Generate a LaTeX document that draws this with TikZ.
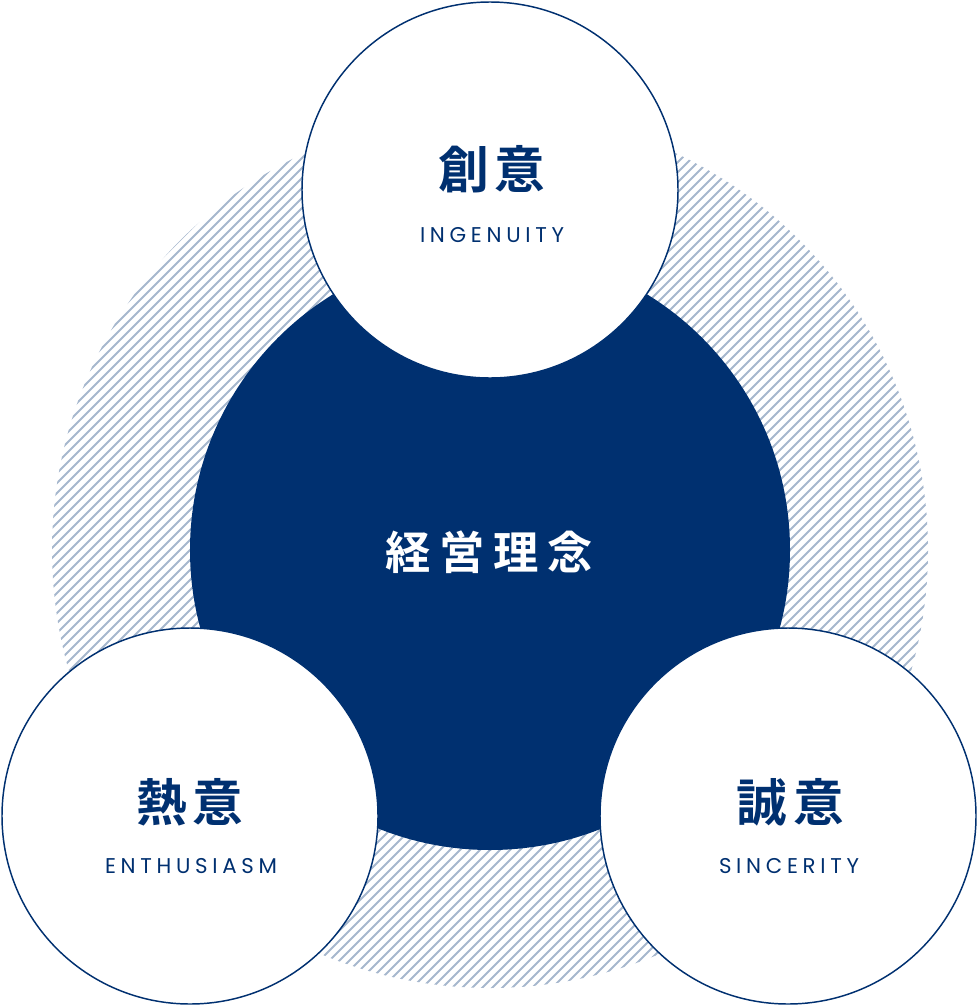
\documentclass[tikz,border=0pt]{standalone}
\usepackage{fontspec}
\setmainfont{Poppins}
\newfontfamily\jpbold{Noto Sans CJK JP Bold}
\usetikzlibrary{positioning,calc}
\definecolor{navy}{HTML}{003070}

\tikzset{
  hub/.style={circle, fill=navy, minimum size=450pt, inner sep=0pt},
  petal/.style={circle, draw=navy, line width=1.1pt, fill=white, minimum size=282pt, inner sep=0pt},
  kanji/.style={font=\jpbold\fontsize{38}{40}\selectfont\addfontfeature{LetterSpace=12}, text=navy},
  hublabel/.style={font=\jpbold\fontsize{34}{36}\selectfont\addfontfeature{LetterSpace=19}, text=white},
  roman/.style={font=\fontsize{16}{18}\selectfont\addfontfeature{LetterSpace=22}, text=navy},
}

\begin{document}
\begin{tikzpicture}[x=0.75pt, y=-0.75pt]
  \useasboundingbox (0,0) rectangle (978,1006);
  % striped halo behind everything
  \begin{scope}
    \clip (490,550) circle (438);
    \foreach \c in {-64,...,64}{
      \draw[navy!35, line width=1.5pt] (490+\c*10-460, 1010) -- ++(920,-920);
    }
  \end{scope}
  % centre
  \node[hub] (core) at (490,550) {};
  \node[hublabel] (coretext) at ($(core)+(-1,2)$) {経営理念};
  % three values
  \node[petal] (ingenuity) at (490,190) {};
  \node[petal] (enthusiasm) at (190,816) {};
  \node[petal] (sincerity) at (788,816) {};
  \node[kanji] (ingenuityjp) at ($(ingenuity)+(2,-21)$) {創意};
  \node[roman] (ingenuityen) at ($(ingenuity)+(2,45)$) {INGENUITY};
  \node[kanji] (enthusiasmjp) at ($(enthusiasm)+(0,-14)$) {熱意};
  \node[roman] (enthusiasmen) at ($(enthusiasm)+(1,50)$) {ENTHUSIASM};
  \node[kanji] (sincerityjp) at ($(sincerity)+(2,-14)$) {誠意};
  \node[roman] (sincerityen) at ($(sincerity)+(1,50)$) {SINCERITY};
\end{tikzpicture}
\end{document}
